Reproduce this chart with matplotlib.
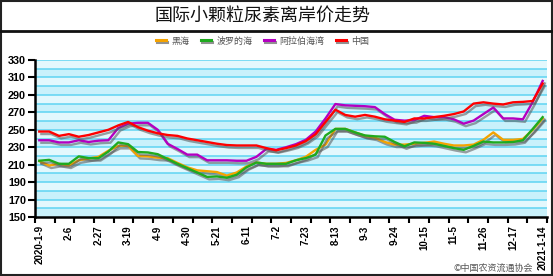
import matplotlib
matplotlib.use("Agg")
import matplotlib.pyplot as plt
import matplotlib.patheffects as pe
from matplotlib.lines import Line2D
from matplotlib.patches import Rectangle
import numpy as np

plt.rcParams['font.family'] = ['Noto Sans CJK SC', 'DejaVu Sans']

dates = ['2020-1-9', '1-16', '1-23', '2-6', '2-13', '2-20', '2-27', '3-5', '3-12', '3-19',
         '3-26', '4-2', '4-9', '4-16', '4-23', '4-30', '5-7', '5-14', '5-21', '5-28',
         '6-4', '6-11', '6-18', '6-25', '7-2', '7-9', '7-16', '7-23', '7-30', '8-6',
         '8-13', '8-20', '8-27', '9-3', '9-10', '9-17', '9-24', '10-1', '10-8', '10-15',
         '10-22', '10-29', '11-5', '11-12', '11-19', '11-26', '12-3', '12-10', '12-17',
         '12-24', '2021-1-7', '2021-1-14']

black_sea = [214, 209, 211, 209, 215, 217, 219, 226, 231.5, 231.5,
             220, 219.5, 218, 217.5, 212, 207, 203.5, 202.5, 201.5, 197.5,
             201, 208, 212.5, 211, 211, 212, 215, 219, 227, 233,
             251, 251, 247, 243, 241, 236, 233, 233, 234, 235,
             236.5, 234, 232, 232, 233, 238.5, 247, 238.5, 238.5, 239.5,
             250, 263]
baltic = [214.5, 215.5, 211, 211, 219.5, 217.5, 217.5, 225, 235.5, 233.5,
          224.5, 224, 222, 216.5, 211, 206, 201, 196, 196.5, 195,
          198.5, 207, 212.5, 211, 211, 211, 215, 217.5, 221.5, 243.5,
          251, 251, 247, 243.5, 242.5, 242, 236, 231, 235.5, 235,
          234, 231.5, 229, 227, 231.5, 236.5, 235.5, 235.5, 236, 238,
          251, 264.5]
arab_gulf = [238, 238, 235.5, 235.5, 238, 236, 237.5, 238, 252, 257,
             258, 258, 250, 234, 228, 221.5, 221.5, 215, 215, 215,
             214.5, 214.5, 219, 228, 227, 230, 233.5, 238.5, 248, 263,
             279.5, 278, 277.5, 277, 276, 268, 261.5, 260.5, 261, 266,
             264.5, 264.5, 262, 257, 260.5, 268, 275.5, 263, 263, 262,
             282, 306]
china = [248, 248, 243, 245, 242, 244, 247, 250, 255, 259,
         253, 249, 246, 244, 243, 240, 238, 236, 234, 232.5,
         232, 232, 232, 229, 226.5, 229, 232, 237, 245, 259,
         273, 267, 265, 267, 265, 262, 260.5, 259, 263, 263,
         264.5, 266, 268, 271, 280, 281.5, 280, 279, 281.5, 282,
         283, 303]

series_names = ['黑海', '波罗的海', '阿拉伯海湾', '中国']
series_values = [black_sea, baltic, arab_gulf, china]
series_colors = ['#f5a300', '#1faa1f', '#b400c0', '#ff0000']

title = '国际小颗粒尿素离岸价走势'
source = '©中国农资流通协会'
yticks = list(range(150, 331, 20))

W, H = 553, 276
fig = plt.figure(figsize=(W / 100, H / 100), dpi=100)
ax = fig.add_axes([35 / W, 1 - 217 / H, (547 - 35) / W, (217 - 60) / H])

x = np.arange(len(dates))
xlim = (-0.435, 51.44)
ax.set_xlim(*xlim)
ax.set_ylim(150, 330)

# striped background
for i, lo in enumerate(range(150, 330, 10)):
    ax.axhspan(lo, lo + 10, color='#c9f1fb' if i % 2 == 0 else '#e3f8fd', lw=0, zorder=0)
for v in range(160, 331, 10):
    ax.axhline(v, color='#5fd4f2', lw=1.1, zorder=1)

shadow = [pe.SimpleLineShadow(offset=(1.5, -1.8), shadow_color='#555555', alpha=0.55), pe.Normal()]
for name, vals, col in zip(series_names, series_values, series_colors):
    ax.plot(x, vals, color=col, lw=1.7, zorder=3, path_effects=shadow, solid_joinstyle='round')

for s in ['top', 'right']:
    ax.spines[s].set_visible(False)
for s in ['left', 'bottom']:
    ax.spines[s].set_linewidth(1.8)
    ax.spines[s].set_zorder(5)

ax.set_yticks(yticks)
ax.set_yticklabels([str(v) for v in yticks], fontsize=7.8, fontweight='bold', family='Liberation Sans')
ax.tick_params(axis='y', length=5, width=1.5, pad=1.5)

ax.set_xticks(np.linspace(xlim[0], xlim[1], 27))
ax.set_xticklabels([])
ax.tick_params(axis='x', which='major', length=4, width=1.5, direction='out')
lab_idx = list(range(0, len(dates), 3))
ax.set_xticks(lab_idx, minor=True)
ax.set_xticklabels([dates[i] for i in lab_idx], minor=True, rotation=90,
                   fontsize=7, fontweight='bold', family='Liberation Sans')
ax.tick_params(axis='x', which='minor', length=0, pad=6)

# legend
handles = [Line2D([0], [0], color=c, lw=2.2,
                  path_effects=[pe.SimpleLineShadow(offset=(0.8, -1.5), shadow_color='#777777', alpha=0.8), pe.Normal()])
           for c in series_colors]
fig.legend(handles, series_names, loc='center', bbox_to_anchor=(0.475, 1 - 41 / H), ncol=4,
           frameon=False, fontsize=6.5, handlelength=1.1, handletextpad=0.6, columnspacing=1.3,
           labelcolor='#555555')

# title and frames
fig.text(0.475, 1 - 16 / H, title, ha='center', va='center', fontsize=13, color='#111111')
fig.add_artist(Rectangle((0.001, 0.002), 0.997, 0.996, transform=fig.transFigure,
                         fill=False, edgecolor='#222222', lw=1.5))
fig.add_artist(Line2D([0, 1], [1 - 31 / H, 1 - 31 / H], transform=fig.transFigure,
                      color='#111111', lw=2))
fig.text(533 / W, 1 - 268 / H, source, ha='right', va='center', fontsize=6.5, color='#555555')

fig.savefig('out.png', dpi=100)
